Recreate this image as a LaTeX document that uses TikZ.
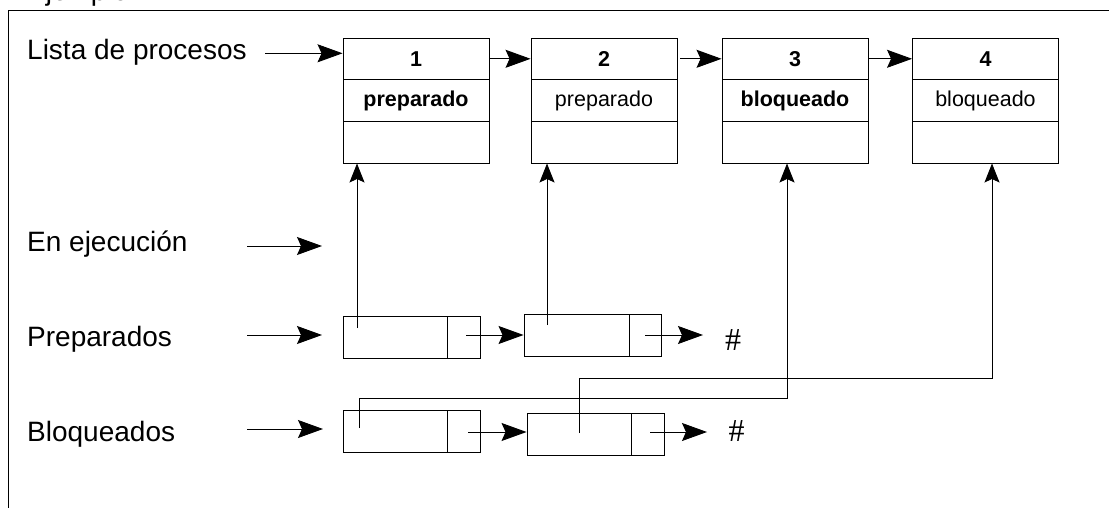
\documentclass[tikz,border=0pt]{standalone}
\usepackage{fontspec}
\setmainfont{Liberation Sans}
\newfontfamily\hashfont{Liberation Serif}
\usetikzlibrary{arrows.meta}

\tikzset{
  lbl/.style={anchor=base west, inner sep=0pt, font=\fontsize{28}{28}\selectfont},
  procbox/.style={draw, line width=0.9pt, minimum width=146pt, minimum height=41.67pt,
                  inner sep=0pt, font=\fontsize{21.5}{21.5}\selectfont},
  cellmain/.style={draw, line width=0.9pt, minimum width=104pt, minimum height=42pt, inner sep=0pt},
  cellptr/.style={draw, line width=0.9pt, minimum width=33pt, minimum height=42pt, inner sep=0pt},
  harr/.style={line width=0.9pt, -{Stealth[length=25pt,width=18pt,inset=4pt]}},
  varr/.style={line width=0.9pt, -{Stealth[length=19pt,width=15pt,inset=3.5pt]}},
  link/.style={line width=0.9pt},
  endmark/.style={inner sep=0pt, font=\hashfont\fontsize{32}{32}\selectfont},
}

\begin{document}
\begin{tikzpicture}[x=1pt,y=-1pt]
  \useasboundingbox (0,0) rectangle (1109,508);

  % outer frame and heading
  \draw[link] (8,508) -- (8,10.5) -- (1109,10.5);
  \node[lbl] (title) at (27,1) {Ejemplo};

  % row labels
  \node[lbl] (lista) at (27,60) {Lista de procesos};
  \node[lbl] (ejec)  at (27,251.5) {En ejecución};
  \node[lbl] (prep)  at (27,346) {Preparados};
  \node[lbl] (bloq)  at (27,441.5) {Bloqueados};

  % process table
  \foreach \n/\x/\st/\bf in {1/416/preparado/1, 2/604/preparado/0, 3/795/bloqueado/1, 4/985.5/bloqueado/0} {
    \node[procbox] (p\n a) at (\x,58.8) {\textbf{\n}};
    \ifnum\bf=1
      \node[procbox] (p\n b) at (\x,100.5) {\textbf{\st}};
    \else
      \node[procbox] (p\n b) at (\x,100.5) {\st};
    \fi
    \node[procbox] (p\n c) at (\x,142.2) {};
  }

  % ready list
  \node[cellmain] (r1m) at (395,337) {};
  \node[cellptr]  (r1n) at (463.5,337) {};
  \node[cellmain, minimum width=105pt] (r2m) at (576.5,335) {};
  \node[cellptr, minimum width=32pt]   (r2n) at (645,335) {};
  \node[endmark] (r2end) at (733,340) {\#};

  % blocked list
  \node[cellmain] (b1m) at (395,431) {};
  \node[cellptr]  (b1n) at (463.5,431) {};
  \node[cellmain] (b2m) at (579,434) {};
  \node[cellptr]  (b2n) at (647.5,434) {};
  \node[endmark] (b2end) at (736.5,431) {\#};

  % free ends of the entry arrows
  \coordinate (la0) at (265,53.3);
  \coordinate (ea0) at (247,246);  \coordinate (ea1) at (322,246);
  \coordinate (pa0) at (247,335);  \coordinate (pa1) at (322,335);
  \coordinate (ba0) at (247,429);  \coordinate (ba1) at (323,429);
  \coordinate (rx)  at (703,335);
  \coordinate (bx)  at (707,432);

  % entry arrows
  \draw[harr] (la0) -- (la0 -| p1a.west);
  \draw[harr] (ea0) -- (ea1);
  \draw[harr] (pa0) -- (pa1);
  \draw[harr] (ba0) -- (ba1);

  % process chain
  \draw[harr] (p1a.east) -- (p2a.west);
  \draw[harr, shorten <=3pt] (p2a.east) -- (p3a.west);
  \draw[harr] (p3a.east) -- (p4a.west);

  % next pointers of the lists
  \coordinate (r1s) at (466,335);
  \draw[harr] (r1s) -- (r1s -| r2m.west);
  \coordinate (r2s) at (645,335);
  \draw[harr] (r2s) -- (rx);
  \coordinate (b1s) at (468,432);
  \draw[harr] (b1s) -- (b1s -| b2m.west);
  \coordinate (b2s) at (650,432);
  \draw[harr] (b2s) -- (bx);

  % pointers from list cells to processes
  \coordinate (v1) at (357,328);
  \draw[varr] (v1) -- (v1 |- p1c.south);
  \coordinate (v2) at (547,325);
  \draw[varr] (v2) -- (v2 |- p2c.south);
  \coordinate (v3) at (359,428);
  \coordinate (v3t) at (787,398.5);
  \draw[varr] (v3) -- (v3 |- v3t) -- (v3t) -- (v3t |- p3c.south);
  \coordinate (v4) at (579,433);
  \coordinate (v4t) at (992,378.3);
  \draw[varr] (v4) -- (v4 |- v4t) -- (v4t) -- (v4t |- p4c.south);
\end{tikzpicture}
\end{document}
